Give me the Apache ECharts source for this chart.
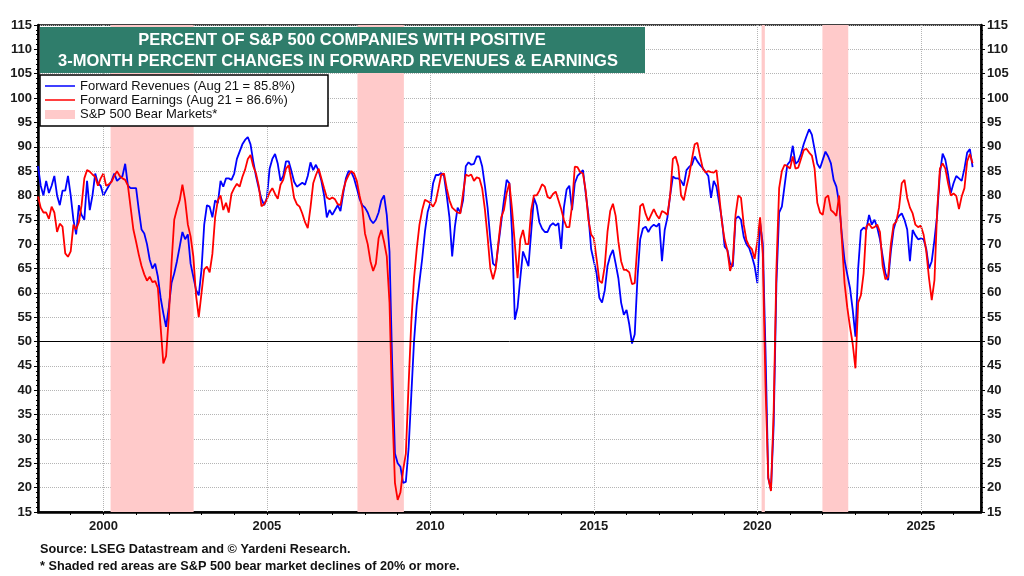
<!DOCTYPE html>
<html><head><meta charset="utf-8">
<script src="https://cdn.jsdelivr.net/npm/echarts@6/dist/echarts.min.js"></script>
<style>html,body{margin:0;padding:0;background:#fff}#c{width:1024px;height:576px}</style>
</head><body><div id="c"></div>
<script>
// Monthly observations starting January 1998
const START_YEAR = 1998;
const revenues = [
  86, 82, 80, 83, 80.5, 82, 84, 80, 78, 81, 81, 84,
  80, 75, 72, 78, 76, 75, 83, 77, 80, 84.5, 82.5, 82,
  80, 81, 82, 83, 84.5, 83, 83.5, 84, 86.5, 82, 81.5, 81.5,
  81.5, 77, 73, 72.2, 70, 66.8, 65, 66, 63.3, 59, 55.8, 53,
  57, 62, 64, 66.5, 69.5, 72.5, 71, 72, 66, 63.3, 60.6, 59.5,
  64.7, 74, 78, 77.7, 75.5, 79, 78.4, 83, 81.8, 83.5, 83.5, 83.2,
  84.5, 87.5, 89, 90.5, 91.4, 92, 90.5, 87, 84, 81.5, 79.3, 78,
  79.5, 85.5, 87.5, 88.5, 86.5, 83, 84, 87, 87, 85, 82.8, 81.8,
  82.2, 82.6, 82.2, 84, 86.8, 85.2, 86.3, 85, 83, 80, 75.5, 77,
  76, 77, 78, 76.8, 80.4, 83.5, 85, 84.8, 83.5, 81.5, 79.3, 78,
  77.5, 76.5, 75, 74.3, 75, 76.5, 79, 80, 76, 68.5, 45, 27,
  25, 24.3, 21, 21.2, 28, 39, 50, 57.5, 62.3, 67, 72.5, 76.6,
  78.5, 82.5, 84.2, 84.2, 84.6, 84, 80, 75.5, 67.5, 73.6, 77.5, 76.5,
  79, 86, 86.8, 86.3, 86.5, 88, 88, 86, 82, 77.5, 71, 66,
  65.5, 70, 74.5, 79, 83.2, 82.5, 72, 54.5, 57, 63, 68.5, 67,
  65.5, 72.5, 79.5, 78, 74.5, 73.2, 72.5, 72.5, 73.8, 74.3, 73.8, 74.3,
  69, 77.5, 81.2, 82, 77, 82.5, 84, 84.6, 85.2, 80.5, 76, 69,
  66.5, 64, 59, 58, 60.5, 65.5, 67.6, 68.8, 66, 63, 58, 55.5,
  56.5, 53.5, 49.6, 51.5, 63, 71, 73.2, 73.6, 72.5, 73.5, 74, 73.6,
  74.3, 66.5, 72.9, 75.5, 80, 83.9, 83.5, 83.5, 83, 82, 85.2, 85.9,
  86.3, 88, 87, 86.2, 85.6, 84.8, 84, 79.5, 83, 81.8, 78.5, 75,
  69.5, 68.8, 66, 65.4, 75.2, 75.7, 75, 71.5, 70, 69.2, 67.5, 65.5,
  62, 74.5, 70, 48, 22, 19.6, 33, 62, 76.5, 77.7, 82, 86.3,
  87, 90.2, 86.5, 87, 88.5, 90.5, 92.1, 93.6, 92.5, 89.5, 86.5, 85.6,
  87.3, 89, 88, 86.6, 83.2, 81.8, 78.5, 72, 66.7, 63.8, 61, 56.5,
  51, 65, 72.8, 73.4, 73, 76, 74, 75, 73.4, 71, 67.5, 64,
  62.6, 68.5, 73, 75, 75.8, 76.3, 75, 73, 66.5, 72.9, 71.8, 71,
  71.2, 71, 69, 65, 66.5, 70.9, 76, 84.5, 88.6, 87.3, 84.3, 80.5,
  82.5, 84, 83.5, 83, 85.5, 88.8, 89.5, 85.8
];
const earnings = [
  79.8, 77.5, 76.5, 76.5, 75.2, 77.7, 76.5, 72.5, 74.2, 73.6, 68.1, 67.4,
  68.5, 74, 73, 74.5, 78, 83.5, 85.2, 84.9, 84.3, 83.8, 82, 83.5,
  84.5, 82, 82.3, 82.8, 84, 85, 84, 83.5, 83.2, 82, 77.5, 73,
  70.5, 67.8, 65.5, 63.8, 62.5, 63.3, 62.2, 62.4, 61, 53, 45.5, 47,
  55, 66, 75, 77.2, 79, 82.2, 79, 74, 71.6, 67.5, 59.5, 55,
  59.9, 64.8, 65.4, 64.2, 68, 75.5, 79, 80, 77, 78.5, 76.5, 80.3,
  81.5, 82.4, 81.8, 83.8, 85.3, 87.5, 88.3, 86, 84.5, 82, 77.8, 78.2,
  79.2, 80.6, 81.5, 80.3, 79.3, 82.2, 83.2, 85.5, 86.2, 83, 79.5, 78.2,
  77.7, 76.3, 74.5, 73.3, 77.5, 82.5, 84.2, 85.5, 83.5, 81.5, 79.6, 79.2,
  79.6, 79.2, 78.2, 78, 81, 83, 84.2, 85, 84.5, 83, 80, 77.5,
  72.2, 70, 66.5, 64.5, 66, 71.2, 72.9, 70.5, 67.5, 58, 36.5, 21,
  17.5, 19, 23.6, 27, 41, 54, 63, 69, 74, 77, 79.1, 78.8,
  78.4, 77.7, 78.8, 81.5, 84.3, 84.5, 81.5, 79, 77.5, 77, 76.5, 76.3,
  80.5, 84.3, 84, 84.3, 83, 83.7, 83.5, 81.5, 77.2, 71.5, 65, 62.8,
  65, 70.5, 75.5, 77, 80.5, 82.5, 77, 70, 63, 71, 72.9, 70,
  70, 77, 80, 80, 81, 82.3, 81.8, 79.7, 79.4, 80.3, 80.8, 79,
  77.2, 75, 73.5, 73.5, 78, 85.9, 85.8, 84.8, 84.5, 81, 75, 72,
  71.2, 67, 62.5, 62, 65.5, 72.5, 76.8, 78.3, 75.8, 70.5, 66.5, 64.7,
  64.7, 64.2, 61.8, 62, 70, 77.8, 78.3, 76.2, 74.8, 76, 77.2, 76,
  75.2, 76.8, 76.5, 76, 80, 87.5, 88, 86, 80, 79, 81.8, 84.2,
  87.5, 90.5, 90.8, 88, 85.5, 84.7, 85, 84.8, 84.7, 85.2, 80, 74.5,
  70.9, 68.7, 64.5, 66.5, 76, 80, 79.5, 74, 70.8, 69.6, 69, 67,
  70.5, 75.5, 68, 40.7, 22, 19.3, 36, 65, 81.5, 85, 86.3, 86,
  85.5, 88, 85.5, 85.7, 87.5, 89.3, 89.6, 88.8, 88.2, 85.5, 78.5, 76.5,
  76, 79.5, 80, 77, 76.5, 75.8, 80, 71, 62, 57, 53, 49.5,
  44.5, 58, 59.5, 64, 73.6, 74.2, 73.3, 73.5, 74, 72.5, 65.5, 62.8,
  63.3, 70, 74, 74.6, 77.5, 82.5, 83.2, 79.5, 77.5, 76.3, 74, 73.5,
  73.8, 72, 68.5, 63, 58.5, 62.6, 77, 85.5, 86.6, 85.5, 82.5, 80,
  80.4, 79.9, 77.2, 79.8, 81.5, 87, 88.5, 86.6
];
// S&P 500 bear markets (start, end) in decimal years
const bearMarkets = [[2000.22, 2002.76], [2007.77, 2009.19], [2020.13, 2020.23], [2021.99, 2022.78]];
const yearLabels = [2000, 2005, 2010, 2015, 2020, 2025];
const xMin = 1998, xMax = 2026.84;
const yMin = 15, yMax = 115, yStep = 5;
const refLevel = 50;
const titleLines = ['PERCENT OF S&P 500 COMPANIES WITH POSITIVE', '3-MONTH PERCENT CHANGES IN FORWARD REVENUES & EARNINGS'];
const legendLabels = ['Forward Revenues (Aug 21 = 85.8%)', 'Forward Earnings (Aug 21 = 86.6%)', 'S&P 500 Bear Markets*'];
const footnotes = ['Source: LSEG Datastream and \u00A9 Yardeni Research.', '* Shaded red areas are S&P 500 bear market declines of 20% or more.'];

const FONT = 'Arial, "Liberation Sans", Helvetica, sans-serif';
const BLUE = '#0000ff', RED = '#ff0000', PINK = '#ffcaca', GREEN = '#2f7d6b';

const toPairs = arr => arr.map((v, i) => [START_YEAR + i / 12, v]);

const chart = echarts.init(document.getElementById('c'), null, {renderer: 'canvas'});
const yAxisCommon = {
  type: 'value', min: yMin, max: yMax, interval: yStep,
  axisLine: {show: true, lineStyle: {color: '#000', width: 2.5}},
  axisTick: {show: true, length: 4, lineStyle: {color: '#000', width: 1}},
  minorTick: {show: true, splitNumber: 5, length: 2, lineStyle: {color: '#000', width: 1}},
  axisLabel: {color: '#1a1a1a', fontWeight: 'bold', fontSize: 13, fontFamily: FONT, margin: 6}
};
const option = {
  animation: false,
  backgroundColor: '#fff',
  grid: {left: 38, right: 43, top: 25, bottom: 64, show: true, borderColor: '#000', borderWidth: 1.5, backgroundColor: 'transparent'},
  xAxis: {
    type: 'value', min: xMin, max: xMax, interval: 1,
    axisLine: {show: true, lineStyle: {color: '#000', width: 2.5}},
    axisTick: {show: true, length: 3, lineStyle: {color: '#000', width: 1}},
    splitLine: {show: false},
    axisLabel: {
      showMaxLabel: false, showMinLabel: false,
      color: '#1a1a1a', fontWeight: 'bold', fontSize: 13, fontFamily: FONT, margin: 8,
      formatter: v => (yearLabels.indexOf(Math.round(v)) >= 0 && Math.abs(v - Math.round(v)) < 1e-6) ? String(Math.round(v)) : ''
    }
  },
  yAxis: [
    Object.assign({}, yAxisCommon, {position: 'left', splitLine: {show: true, lineStyle: {color: '#b5b5b5', type: 'dotted', width: 1}}}),
    Object.assign({}, yAxisCommon, {position: 'right', splitLine: {show: false}})
  ],
  series: [
    {
      name: 'Forward Revenues', type: 'line', data: toPairs(revenues),
      showSymbol: false, symbol: 'none', lineStyle: {color: BLUE, width: 1.8}, itemStyle: {color: BLUE},
      z: 3,
      markArea: {
        silent: true, itemStyle: {color: PINK},
        data: bearMarkets.map(b => [{xAxis: b[0]}, {xAxis: b[1]}])
      },
      markLine: {
        silent: true, symbol: 'none', animation: false, label: {show: false},
        data: yearLabels.map(y => ({xAxis: y, lineStyle: {color: '#b5b5b5', type: 'dotted', width: 1}}))
          .concat([{yAxis: refLevel, lineStyle: {color: '#000', type: 'solid', width: 1}}])
      }
    },
    {
      name: 'Forward Earnings', type: 'line', data: toPairs(earnings),
      showSymbol: false, symbol: 'none', lineStyle: {color: RED, width: 1.8}, itemStyle: {color: RED},
      z: 4
    }
  ],
  graphic: [
    {type: 'rect', left: 40, top: 27, z: 100, shape: {width: 605, height: 46}, style: {fill: GREEN}},
    {type: 'text', z: 101, style: {x: 342, y: 40, text: titleLines[0], fill: '#fff', font: 'bold 16.5px ' + FONT, textAlign: 'center', textVerticalAlign: 'middle'}},
    {type: 'text', z: 101, style: {x: 338, y: 61, text: titleLines[1], fill: '#fff', font: 'bold 16.5px ' + FONT, textAlign: 'center', textVerticalAlign: 'middle'}},
    {type: 'rect', z: 100, shape: {x: 40, y: 75, width: 288, height: 51}, style: {fill: '#fff', stroke: '#000', lineWidth: 1.5}},
    {type: 'line', z: 101, shape: {x1: 45, y1: 86, x2: 75, y2: 86}, style: {stroke: BLUE, lineWidth: 1.5}},
    {type: 'line', z: 101, shape: {x1: 45, y1: 100, x2: 75, y2: 100}, style: {stroke: RED, lineWidth: 1.5}},
    {type: 'rect', z: 101, shape: {x: 45, y: 110, width: 30, height: 9}, style: {fill: PINK}},
    {type: 'text', z: 101, style: {x: 80, y: 86, text: legendLabels[0], fill: '#111', font: '13px ' + FONT, textVerticalAlign: 'middle'}},
    {type: 'text', z: 101, style: {x: 80, y: 100, text: legendLabels[1], fill: '#111', font: '13px ' + FONT, textVerticalAlign: 'middle'}},
    {type: 'text', z: 101, style: {x: 80, y: 114, text: legendLabels[2], fill: '#111', font: '13px ' + FONT, textVerticalAlign: 'middle'}},
    {type: 'text', z: 101, style: {x: 40, y: 549, text: footnotes[0], fill: '#111', font: 'bold 12.7px ' + FONT, textVerticalAlign: 'middle'}},
    {type: 'text', z: 101, style: {x: 40, y: 566, text: footnotes[1], fill: '#111', font: 'bold 12.7px ' + FONT, textVerticalAlign: 'middle'}}
  ]
};
chart.setOption(option);
</script>
</body></html>
